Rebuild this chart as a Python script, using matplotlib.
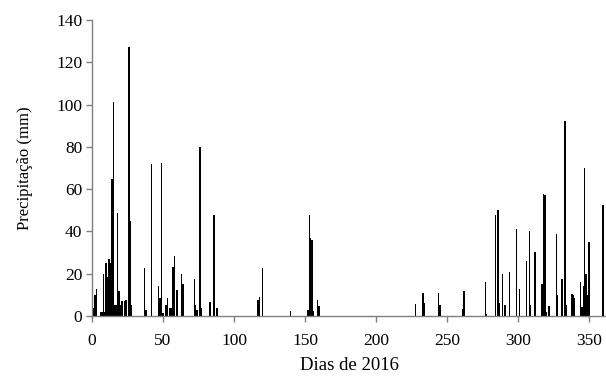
import numpy as np
import matplotlib
matplotlib.use("Agg")
from matplotlib import pyplot as plt

# Daily precipitation, 2016 (days without rain are zero)
rain_days = [
    1, 2, 3, 6, 7, 8, 9, 10, 11, 12, 13, 14, 15, 16, 17, 18, 19, 20, 21, 23,
    24, 26, 27, 28, 37, 38, 42, 47, 48, 49, 50, 52, 53, 55, 56, 57, 58, 60,
    63, 64, 72, 73, 74, 76, 77, 83, 86, 88, 117, 118, 120, 140, 152, 153,
    154, 155, 156, 159, 160, 228, 233, 234, 244, 245, 261, 262, 277, 278,
    284, 286, 287, 289, 291, 294, 299, 301, 306, 308, 309, 312, 317, 318,
    319, 320, 322, 327, 328, 331, 333, 334, 338, 339, 340, 344, 345, 346,
    347, 348, 349, 350, 360,
]
rain_mm = [
    4, 10, 13, 2, 2, 20, 2, 25, 18.5, 27, 25, 65, 101, 5, 5, 48.5, 12, 5, 7, 7,
    7.5, 127, 45, 5, 22.5, 2.8, 72, 14, 8.5, 72.6, 1.4, 5, 8.5, 3.8, 3.8, 23, 28.5, 12.3,
    20, 15, 17.5, 5, 2.8, 80, 4, 6.5, 48, 4, 7.5, 9, 22.5, 2.4, 2.8, 48,
    37, 36, 2.4, 7.5, 4.7, 5.7, 11, 6, 11, 5.2, 3.2, 12, 16, 1,
    47.8, 50, 6, 20, 5, 21, 41, 12.6, 26, 40, 5, 30.4, 15, 57.5,
    57, 2, 4.7, 38.6, 10, 17.4, 92, 5, 10.4, 10, 8.4, 16, 4.4, 14,
    70, 20, 10, 35, 52.5,
]

days = np.arange(1, 367)
precip = np.zeros(days.size)
precip[np.array(rain_days) - 1] = rain_mm

plt.rcParams["font.family"] = ["Liberation Serif", "DejaVu Serif"]

fig = plt.figure(figsize=(6.06, 3.79), dpi=100)
ax = fig.add_axes([0.1518, 0.1662, 0.8482, 0.781])

ax.bar(days, precip, width=1.0, color="black", linewidth=0)

ax.set_xlim(0, 362)
ax.set_ylim(0, 140)
ax.set_xticks(np.arange(0, 351, 50))
ax.set_yticks(np.arange(0, 141, 20))

for side in ["top", "right"]:
    ax.spines[side].set_visible(False)
for side in ["left", "bottom"]:
    ax.spines[side].set_color("#7f7f7f")
    ax.spines[side].set_linewidth(1.0)

ax.tick_params(axis="both", direction="out", length=4, width=1.0,
               color="#7f7f7f", labelsize=12.5)
ax.tick_params(axis="y", pad=3)
ax.tick_params(axis="x", pad=8)

ax.set_xlabel("Dias de 2016", fontsize=13.5, labelpad=6)
ax.set_ylabel("Precipitação (mm)", fontsize=12, labelpad=17)

fig.savefig("out.png", dpi=100)
